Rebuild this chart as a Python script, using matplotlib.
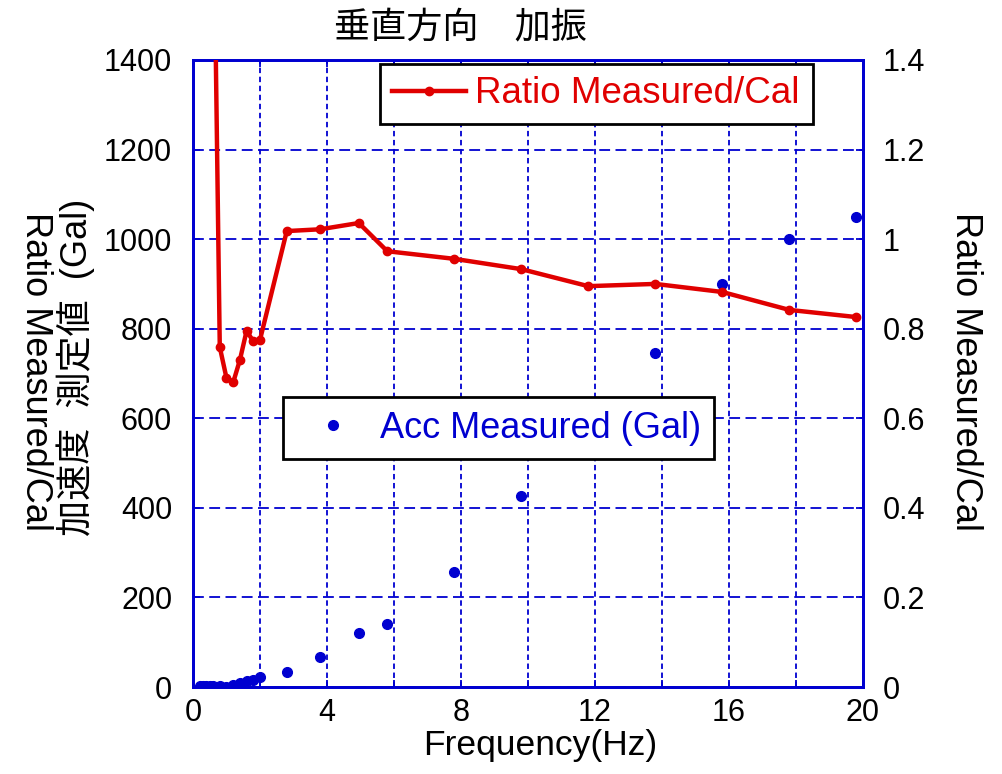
import numpy as np
import matplotlib
matplotlib.use('Agg')
import matplotlib.pyplot as plt
from matplotlib.ticker import MultipleLocator

plt.rcParams['font.family'] = ['Liberation Sans', 'Noto Sans CJK JP', 'DejaVu Sans']

# ---- data ----
# measured acceleration (Gal)
acc_freq = [0.2, 0.3, 0.4, 0.5, 0.6, 0.8, 1.0, 1.2, 1.4, 1.6, 1.8, 2.0,
            2.8, 3.8, 4.95, 5.8, 7.8, 9.8, 13.8, 15.8, 17.8, 19.8]
acc_gal = [2, 2, 2, 2, 2, 3, 1, 5, 9, 13, 16, 22,
           33, 67, 121, 141, 257, 426, 746, 900, 1000, 1049]

# measured / calculated ratio
ratio_freq = [0.6, 0.8, 1.0, 1.2, 1.4, 1.6, 1.8, 2.0, 2.8, 3.8, 4.95, 5.8,
              7.8, 9.8, 11.8, 13.8, 15.8, 17.8, 19.8]
ratio_val = [1.85, 0.759, 0.69, 0.68, 0.73, 0.795, 0.772, 0.775, 1.018, 1.022, 1.036, 0.973,
             0.956, 0.933, 0.895, 0.90, 0.882, 0.842, 0.826]

RED = '#e00000'
BLUE = '#0000d0'

fig = plt.figure(figsize=(10.03, 7.74), dpi=100)
ax = fig.add_axes([0.1924, 0.1124, 0.668, 0.8101])
ax2 = ax.twinx()

# acc on left axis
ax.plot(acc_freq, acc_gal, 'o', color=BLUE, markersize=7, zorder=3)
ax.set_xlim(0, 20)
ax.set_ylim(0, 1400)
ax.xaxis.set_major_locator(MultipleLocator(4))
ax.xaxis.set_minor_locator(MultipleLocator(2))
ax.yaxis.set_major_locator(MultipleLocator(200))
ax.grid(True, which='major', axis='y', color=BLUE, ls=(0, (6, 3)), lw=1.3)
ax.grid(True, which='both', axis='x', color=BLUE, ls=(0, (3, 2)), lw=1.3)
ax.tick_params(which='both', direction='in', colors=BLUE, labelcolor='black',
               labelsize=22, length=5, width=1.3, top=True)
ax.tick_params(axis='y', pad=15)
ax.tick_params(axis='x', pad=8)
for sp in ax.spines.values():
    sp.set_color(BLUE)
    sp.set_linewidth(2)

# ratio on right axis
ax2.plot(ratio_freq, ratio_val, '-o', color=RED, lw=3.2, markersize=6, zorder=4)
ax2.set_ylim(0, 1.4)
ax2.yaxis.set_major_locator(MultipleLocator(0.2))
ax2.yaxis.set_major_formatter(plt.FuncFormatter(lambda v, p: f'{v:g}'))
ax2.tick_params(direction='in', colors=BLUE, labelcolor='black',
                labelsize=22, length=5, width=1.3, pad=14)
for sp in ax2.spines.values():
    sp.set_color(BLUE)
    sp.set_linewidth(2)

fig.text(0.539, 0.037, 'Frequency(Hz)', fontsize=25.5, ha='center', va='center')
fig.text(0.459, 0.962, '垂直方向\u3000加振', fontsize=26, ha='center', va='center')

# stacked left axis labels and right axis label
fig.text(0.035, 0.52, 'Ratio Measured/Cal', fontsize=26, rotation=270,
         ha='center', va='center')
fig.text(0.075, 0.525, '加速度  測定値  (Gal)', fontsize=26, rotation=90,
         ha='center', va='center')
fig.text(0.963, 0.52, 'Ratio Measured/Cal', fontsize=26, rotation=270,
         ha='center', va='center')

# legends
h1, = ax2.plot([], [], '-o', color=RED, lw=3.2, markersize=6)
leg1 = ax2.legend([h1], ['Ratio Measured/Cal'], loc='upper left',
                  bbox_to_anchor=(0.262, 1.012), fontsize=26.5, frameon=True,
                  fancybox=False, edgecolor='black', handlelength=2.0,
                  handletextpad=0.25, borderpad=0.35, borderaxespad=0.3,
                  labelcolor=RED)
leg1.get_frame().set_linewidth(2)
leg1.get_frame().set_alpha(1)

h2, = ax.plot([], [], 'o', color=BLUE, markersize=7)
leg2 = ax2.legend([h2], ['Acc Measured (Gal)'], loc='upper left',
                  bbox_to_anchor=(0.118, 0.48), fontsize=26, frameon=True,
                  fancybox=False, edgecolor='black', handlelength=2.0,
                  handletextpad=0.3, borderpad=0.38, borderaxespad=0.3,
                  labelcolor=BLUE)
leg2.get_frame().set_linewidth(2)
leg2.get_frame().set_alpha(1)
ax2.add_artist(leg1)

fig.savefig('out.png', dpi=100)
